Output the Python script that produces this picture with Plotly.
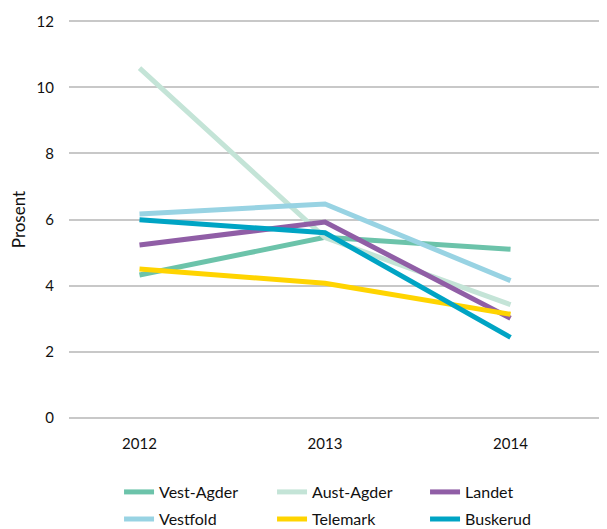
import plotly.graph_objects as go

years = [2012, 2013, 2014]
series_names = ["Vest-Agder", "Aust-Agder", "Landet", "Vestfold", "Telemark", "Buskerud"]
vest_agder = [4.32, 5.46, 5.10]
aust_agder = [10.58, 5.45, 3.42]
landet = [5.23, 5.92, 3.01]
vestfold = [6.17, 6.47, 4.15]
telemark = [4.50, 4.07, 3.13]
buskerud = [5.99, 5.60, 2.43]
y_ticks = [0, 2, 4, 6, 8, 10, 12]

values = [vest_agder, aust_agder, landet, vestfold, telemark, buskerud]
colors = ["#6cc3aa", "#c4e4d7", "#905ea6", "#98d3e3", "#ffd400", "#00a4c4"]
# first three entries in the top legend row, last three in the bottom row
legend_ids = ["legend", "legend", "legend", "legend2", "legend2", "legend2"]

fig = go.Figure()
for name, vals, col, lg in zip(series_names, values, colors, legend_ids):
    fig.add_trace(go.Scatter(
        x=years, y=vals, mode="lines", name=name, legend=lg,
        line=dict(color=col, width=5),
    ))

legend_style = dict(
    orientation="h", xanchor="left", yanchor="middle", yref="container",
    entrywidth=108, entrywidthmode="pixels",
    font=dict(size=16), itemwidth=30, bgcolor="rgba(0,0,0,0)",
)

fig.update_layout(
    width=599, height=521,
    margin=dict(l=61, r=0, t=10, b=108),
    plot_bgcolor="white", paper_bgcolor="white",
    font=dict(family="Lato, sans-serif", size=14, color="#111111"),
    showlegend=True,
    legend=dict(x=0.093, y=0.071, **legend_style),
    legend2=dict(x=0.093, y=0.019, **legend_style),
    xaxis=dict(
        range=[2011.62, 2014.52], tickvals=years, ticktext=[str(y) for y in years],
        showgrid=False, zeroline=False, showline=False, ticks="",
        tickfont=dict(size=15), automargin=False, ticklabelstandoff=12,
    ),
    yaxis=dict(
        range=[-0.1, 12.1], tickvals=y_ticks, showgrid=True,
        gridcolor="#c8c8c8", gridwidth=1.5, zeroline=False, showline=False,
        ticks="", ticklabelstandoff=14, tickfont=dict(size=15), automargin=False,
        title=dict(text="Prosent", font=dict(size=17), standoff=8),
    ),
)

fig.write_html("out.html")
